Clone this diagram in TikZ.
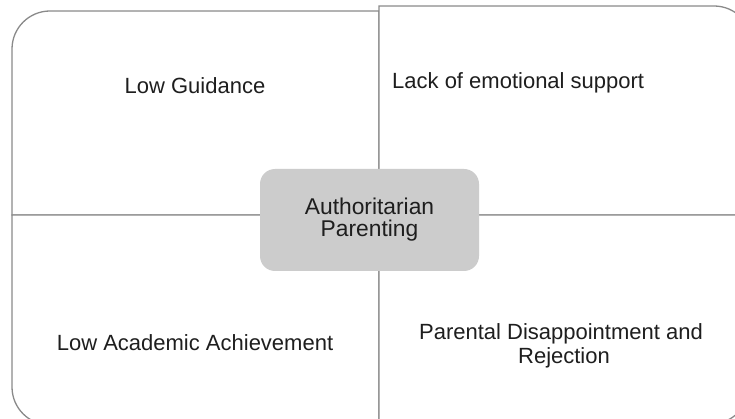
\documentclass[tikz,border=0pt]{standalone}
\usepackage{fontspec}
\setmainfont{Liberation Sans}
\definecolor{edgegray}{HTML}{8A8A8A}
\definecolor{boxgray}{HTML}{CCCCCC}
\definecolor{txt}{HTML}{1E1E1E}
\begin{document}
\begin{tikzpicture}[x=1pt,y=-1pt,
  quad/.style={draw=edgegray,line width=1.3pt,fill=white},
  lbl/.style={text=txt,font=\fontsize{22}{24}\selectfont,inner sep=0pt,align=center},
  ctext/.style={text=txt,font=\fontsize{22.8}{22}\selectfont,inner sep=0pt},
  centerbox/.style={fill=boxgray,draw=none,rounded corners=15pt,minimum width=219pt,minimum height=102pt,inner sep=0pt}]
\useasboundingbox (0,0) rectangle (735,419);
\clip (0,0) rectangle (735,419);
% quadrants
\draw[quad] (379,215) -- (379,11) [rounded corners=38pt] -- (12,11) [sharp corners] -- (12,215) -- cycle;
\draw[quad] (379,215) -- (379,6) [rounded corners=38pt] -- (752,6) [sharp corners] -- (752,215) -- cycle;
\draw[quad] (379,215) -- (12,215) [rounded corners=38pt] -- (12,425) [sharp corners] -- (379,425) -- cycle;
\draw[quad] (379,215) -- (749,215) [rounded corners=38pt] -- (749,424) [sharp corners] -- (379,424) -- cycle;
% labels
\node[lbl,anchor=base] (tl) at (195,94) {Low Guidance};
\node[lbl,anchor=base west] (tr) at (392,89) {Lack of emotional support};
\node[lbl,anchor=base] (bl) at (195,350) {Low Academic Achievement};
\node[lbl,anchor=base] (br1) at (561,339) {Parental Disappointment and};
\node[lbl,anchor=base] (br2) at (564,363) {Rejection};
% centre
\node[centerbox] (c) at (369.5,220) {};
\node[ctext,anchor=base] (c1) at (369.5,215) {Authoritarian};
\node[ctext,anchor=base] (c2) at (369.5,237) {Parenting};
\end{tikzpicture}
\end{document}
